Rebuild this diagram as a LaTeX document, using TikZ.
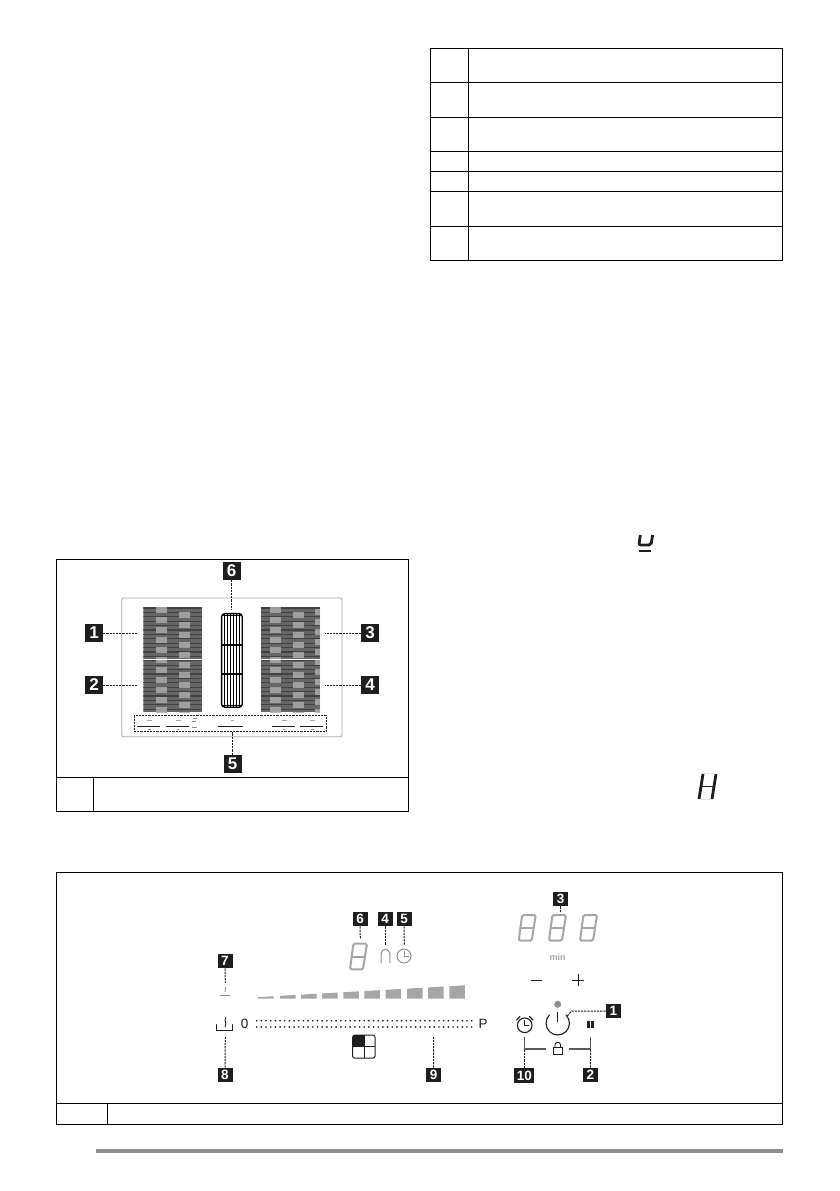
\documentclass[tikz,border=0pt]{standalone}
\usepackage{fontspec}
\setmainfont{Liberation Sans}
\usepackage{xcolor}
\usetikzlibrary{positioning,calc}
\definecolor{ink}{HTML}{1E1E1E}
\definecolor{dimgray}{HTML}{A6A6A6}
\definecolor{zonegray}{HTML}{666666}
\definecolor{zonelight}{HTML}{ABABAB}
\definecolor{zoneline}{HTML}{424242}
\definecolor{rulegray}{HTML}{8F8F8F}
\tikzset{
  badge/.style={
    rectangle,
    fill=ink,
    text=white,
    font=\bfseries\fontsize{13.5}{13.5}\selectfont,
    minimum width=15pt,
    minimum height=14.5pt,
    inner sep=0pt
  },
  bigbadge/.style={badge, font=\bfseries\fontsize{17}{17}\selectfont,
    minimum width=18pt, minimum height=18pt},
  lead/.style={draw=ink, line width=1pt, dash pattern=on 2.2pt off 1pt},
  tablerule/.style={draw=black, line width=1pt},
  glyph/.style={font=\fontsize{13.5}{13.5}\selectfont, text=ink, inner sep=0pt},
  symbol/.style={draw=ink, line width=0.9pt, line cap=round},
  dimsymbol/.style={draw=rulegray, line width=1pt, line cap=round},
  digit/.pic={
    \draw[dimgray, line width=2pt, rounded corners=1.5pt]
      (4.4,1) -- (18,1) -- (14,26.7) -- (1,26.7) -- cycle;
    \draw[dimgray, line width=2pt] (2.7,13.8) -- (16,13.8);
  }
}
% one hob zone: left edge, width, light columns as x/phase
\newcommand{\hobzone}[3]{
  \begin{scope}
    \clip (#1,606.7) rectangle ++(#2,105.3);
    \fill[zonegray] (#1,606.7) rectangle ++(#2,105.3);
    \foreach \k in {0,...,24} {
      \draw[zoneline, line width=1.3pt] (#1,{608+4.4*\k}) -- ++(#2,0);
    }
    \foreach \cx/\ph in {#3} {
      \foreach \k in {0,...,10} {
        \fill[zonelight, opacity=0.85] (\cx,{606.7+\ph+10*\k}) rectangle ++(11,6);
      }
    }
    \draw[white, line width=0.7pt] (#1,659) -- ++(#2,0);
  \end{scope}
}
\begin{document}
\begin{tikzpicture}[x=1pt, y=-1pt]
\useasboundingbox (0,0) rectangle (839,1191);
\fill[white] (0,0) rectangle (839,1191);

% ---- Table, top right ----
\draw[tablerule] (430,48.3) rectangle (782.7,260.3);
\draw[tablerule] (468.3,48.3) -- (468.3,260.3);
\foreach \rowy in {82.3,117.3,151.3,171.3,191.3,226.3} {
  \draw[tablerule] (430,\rowy) -- (782.7,\rowy);
}

% ---- Display symbols in the text column ----
\draw[ink, line width=2.8pt, rounded corners=2pt]
  (640.3,535) -- (638.9,545) -- (651,545) -- (652.6,535);
\draw[ink, line width=2pt] (639,551) -- (650.7,551);
\draw[ink, line width=2.8pt] (699,799) -- (703,774);
\draw[ink, line width=2.8pt] (712,799) -- (716,774);
\draw[ink, line width=1.8pt] (701,786.5) -- (714,786.5);
\draw[black!10, line width=1pt] (703,773.5) -- (716,773.5) (699,799.5) -- (712,799.5);

% ---- Hob panel, left ----
\draw[tablerule] (56.7,559.7) rectangle (408,811);
\draw[tablerule] (56.7,777) -- (408,777);
\draw[tablerule] (93,777) -- (93,811);
\draw[draw=dimgray, line width=0.8pt, rounded corners=2pt]
  (121.7,598) rectangle (342,736.7);

\hobzone{143.3}{58.7}{156/0,178.7/5}
\hobzone{261}{59}{270/0,293/5,315/2}

% grille of the middle zone
\draw[black, line width=1.3pt, rounded corners=3pt] (221.6,613.6) rectangle (242.2,707.2);
\foreach \gx in {224.7,227.7,230.7,233.7,236.7,239.7} {
  \draw[black, line width=1.3pt] (\gx,613.6) -- (\gx,707.2);
}
\foreach \gy in {615.5,645,674,705.5} {
  \draw[black, line width=1.2pt] (221.6,\gy) -- (242.2,\gy);
}

% touch controls strip
\draw[lead] (134.3,715.3) rectangle (326,731.7);
\foreach \cx in {137,165.7,271.7,300} {
  \draw[ink, line width=0.6pt] (\cx,726) -- ++(23,0);
  \draw[black!35, line width=1pt] (\cx+10,720.5) -- ++(5,0);
  \draw[black!45, line width=1pt] (\cx+11,729.5) -- ++(2.5,0);
}
\draw[ink, line width=0.6pt] (218,726) -- ++(24.7,0);
\draw[black!35, line width=1pt] (231,720.5) -- ++(3,0);
\draw[black!45, line width=1pt] (193,718) -- ++(4,0) (191.5,721.5) -- ++(4,0) (192,727) -- ++(5,0);

\node[bigbadge] (labA) at (94,633) {1};
\node[bigbadge] (labB) at (94,685) {2};
\node[bigbadge] (labC) at (370,633) {3};
\node[bigbadge] (labD) at (370,685) {4};
\node[bigbadge] (labE) at (232.5,764) {5};
\node[bigbadge] (labF) at (231.5,571) {6};

\coordinate (zoneA) at (138,633);
\coordinate (zoneB) at (138,685);
\coordinate (zoneC) at (325,633);
\coordinate (zoneD) at (325,685);
\coordinate (strip) at (232.5,731.7);
\coordinate (grille) at (231.5,610);

\draw[lead] (labA) -- (zoneA);
\draw[lead] (labB) -- (zoneB);
\draw[lead] (labC) -- (zoneC);
\draw[lead] (labD) -- (zoneD);
\draw[lead] (labE) -- (strip);
\draw[lead] (labF) -- (grille);

% ---- Control panel, bottom ----
\draw[tablerule] (56.7,872) rectangle (782.7,1124.3);
\draw[tablerule] (56.7,1103.3) -- (782.7,1103.3);
\draw[tablerule] (107,1103.3) -- (107,1124.3);

% zone display and its indicators
\pic at (349,942.7) {digit};
\pic at (517.7,914) {digit};
\pic at (548,914) {digit};
\pic at (579,914) {digit};
\draw[dimsymbol] (381.2,963) -- (381.2,953.5) arc[start angle=180, end angle=360, radius=4.3] -- (389.8,963);
\draw[dimsymbol] (404,956) circle[radius=7];
\draw[dimsymbol] (404,951) -- (404,956) -- (409,956);

% heat level bars
\foreach \bx in {258,280,301,322,343.3,364.3,385.7,407,428,449.3} {
  \pgfmathsetmacro{\topl}{min(998.2,995-(\bx-295)*0.057)}
  \pgfmathsetmacro{\topr}{995-(\bx+15.5-295)*0.057}
  \fill[dimgray] (\bx,\topl) -- (\bx+15.5,\topr) -- (\bx+15.5,998.7) -- (\bx,998.7) -- cycle;
}

% slider
\node[glyph] (zero) at (244.7,1024) {0};
\node[glyph] (pmax) at (483,1024) {P};
\foreach \rowy in {1020.7,1027} {
  \foreach \k in {0,...,46} {
    \fill[ink] ({256.7+4.674*\k},\rowy) circle[radius=0.95];
  }
}

% keep warm symbols
\draw[dimsymbol] (220,995) -- (230,995);
\draw[rulegray, line width=0.9pt] (225.5,987) .. controls (224,989) and (226.5,989.5) .. (225,992);
\draw[symbol] (216.7,1024.5) -- (216.7,1030.5) -- (232.7,1030.5) -- (232.7,1024.5);
\draw[symbol] (225.8,1017.5) .. controls (223.5,1021) and (227.5,1023) .. (225,1027);

% bridge icon
\fill[ink] (352.5,1035.2) rectangle (364,1046.7);
\draw[ink, line width=1pt, rounded corners=2.5pt] (352.5,1035.2) rectangle (375.2,1058.2);
\draw[ink, line width=1pt] (364,1035.2) -- (364,1058.2) (352.5,1046.7) -- (375.2,1046.7);

% timer block
\node[font=\bfseries\fontsize{9}{9}\selectfont, text=dimgray, inner sep=0pt] (minlab) at (557.7,957) {min};
\draw[ink, line width=0.9pt] (531,980) -- (542,980);
\draw[ink, line width=0.9pt] (572.3,980) -- (584.3,980) (578.3,974) -- (578.3,986);
\fill[rulegray] (557.7,1004.3) circle[radius=3.5];

% power key
\coordinate (power) at (557.7,1023.3);
\draw[symbol, line width=1.1pt] (566,1015) arc[start angle=-45, end angle=225, radius=11.7];
\draw[symbol, line width=1.1pt] (557.7,1012.3) -- (557.7,1021.7);

% alarm clock
\draw[symbol, line width=1.1pt] (524.7,1025.3) circle[radius=7.3];
\draw[symbol] (524.7,1020.5) -- (524.7,1025.5) -- (529,1025.5);
\draw[symbol, line width=1.1pt] (516.5,1020) -- (520,1016.5) (533,1020) -- (529.5,1016.5);

% pause
\fill[ink] (587,1020.7) rectangle (590,1028.3);
\fill[ink] (591.3,1020.7) rectangle (594.3,1028.3);

% key lock
\draw[draw=black!65, line width=1.5pt] (524.7,1036.7) -- (524.7,1049) -- (545.7,1049);
\draw[draw=black!65, line width=1.5pt] (569.3,1049) -- (590.7,1049) -- (590.7,1036.7);
\draw[ink, line width=0.9pt] (553.3,1047) rectangle (562.3,1054.3);
\draw[ink, line width=0.9pt] (555,1047) -- (555,1045) arc[start angle=180, end angle=360, radius=2.8] -- (560.6,1047);

% labels
\node[badge] (keyA) at (613.3,1011) {1};
\node[badge] (keyB) at (590.3,1075) {2};
\node[badge] (keyC) at (560.5,899) {3};
\node[badge] (keyD) at (385,919) {4};
\node[badge] (keyE) at (404,919) {5};
\node[badge] (keyF) at (360,919) {6};
\node[badge] (keyG) at (225,961) {7};
\node[badge] (keyH) at (225,1075) {8};
\node[badge] (keyI) at (433.5,1075) {9};
\node[badge, minimum width=20pt] (keyJ) at (524.3,1075.5) {10};

\coordinate (toPower) at (567.3,1016);
\coordinate (toPause) at (590.7,1049);
\coordinate (toTimer) at (560.5,912);
\coordinate (toRing) at (385,945);
\coordinate (toClock) at (404.3,945);
\coordinate (toDigit) at (360.3,939);
\coordinate (toWarm) at (225.3,983);
\coordinate (toPot) at (225.3,1037);
\coordinate (toSlider) at (433.7,1037);
\coordinate (toAlarm) at (524.7,1049);

\draw[lead] (keyA.west) -- ++(-34,0) -- (toPower);
\draw[lead] (keyB) -- (toPause);
\draw[lead] (keyC) -- (toTimer);
\draw[lead] (keyD) -- (toRing);
\draw[lead] (keyE) -- (toClock);
\draw[lead] (keyF) -- (toDigit);
\draw[lead] (keyG) -- (toWarm);
\draw[lead] (keyH) -- (toPot);
\draw[lead] (keyI) -- (toSlider);
\draw[lead] (keyJ.north -| toAlarm) -- (toAlarm);

% ---- Footer rule ----
\fill[rulegray] (96,1149) rectangle (782.7,1153);

\end{tikzpicture}
\end{document}
